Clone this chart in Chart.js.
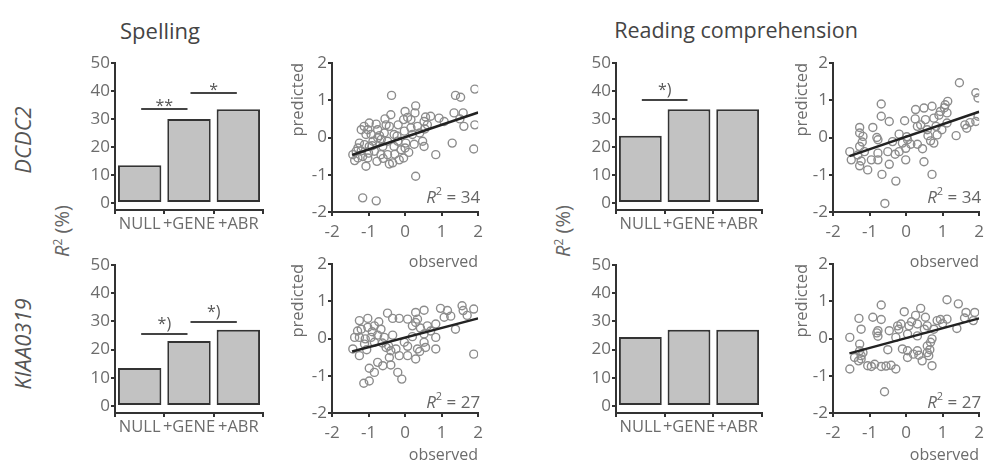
<!DOCTYPE html>
<html>
<head>
<meta charset="utf-8">
<script src="https://cdn.jsdelivr.net/npm/chart.js@4/dist/chart.umd.min.js"></script>
<style>
body { margin: 0; width: 992px; height: 468px; background: #fff; position: relative; overflow: hidden; font-family: 'Open Sans', sans-serif; }
canvas { position: absolute; }
.txt { position: absolute; color: #555; white-space: nowrap; line-height: 1; }
.mid { transform: translate(-50%, -50%); }
.rot { transform: translate(-50%, -50%) rotate(-90deg); }
sup { font-size: 0.6em; vertical-align: 0.55em; }
</style>
</head>
<body>
<div class="txt mid" style="left:160px; top:30px; font-size:22px; color:#444;">Spelling</div>
<div class="txt mid" style="left:736px; top:30px; font-size:21.5px; color:#444;">Reading comprehension</div>
<div class="txt rot" style="left:22px; top:140px; font-size:22px; font-style:italic;">DCDC2</div>
<div class="txt rot" style="left:22px; top:344px; font-size:22px; font-style:italic;">KIAA0319</div>
<div class="txt rot" style="left:62px; top:231px; font-size:20px; color:#666;"><i>R</i><sup>2</sup> (%)</div>
<div class="txt rot" style="left:563px; top:231px; font-size:20px; color:#666;"><i>R</i><sup>2</sup> (%)</div>

<canvas id="b1" width="196" height="190" style="left:75px; top:50px;"></canvas>
<canvas id="s1" width="201" height="221" style="left:288px; top:51px;"></canvas>
<canvas id="b2" width="194" height="190" style="left:576px; top:50px;"></canvas>
<canvas id="s2" width="198" height="221" style="left:792px; top:51px;"></canvas>
<canvas id="b3" width="196" height="191" style="left:75px; top:252px;"></canvas>
<canvas id="s3" width="201" height="213" style="left:288px; top:252px;"></canvas>
<canvas id="b4" width="194" height="191" style="left:576px; top:252px;"></canvas>
<canvas id="s4" width="198" height="213" style="left:792px; top:252px;"></canvas>

<script>
// categories and tick values
const categories = ['NULL', '+GENE', '+ABR'];
const barTicks = [0, 10, 20, 30, 40, 50];
const scatterTicks = [-2, -1, 0, 1, 2];

// R2 (%) bars
const spellDcdc2Bars = [13.5, 30, 33.5];
const readDcdc2Bars = [24, 33.5, 33.5];
const spellKiaaBars = [13.5, 23, 27];
const readKiaaBars = [24.5, 27, 27];

// significance brackets: [from, to, level, label]
const spellDcdc2Sig = [[0, 1, 33.6, '**'], [1, 2, 39.3, '*']];
const readDcdc2Sig = [[0, 1, 36.8, '*)']];
const spellKiaaSig = [[0, 1, 25.5, '*)'], [1, 2, 29.8, '*)']];
const readKiaaSig = [];

// R2 shown in scatter panels
const spellDcdc2R2 = 34;
const readDcdc2R2 = 34;
const spellKiaaR2 = 27;
const readKiaaR2 = 27;

// regression lines [[x1,y1],[x2,y2]]
const spellDcdc2Fit = [[-1.45, -0.47], [2, 0.67]];
const readDcdc2Fit = [[-1.55, -0.5], [2, 0.69]];
const spellKiaaFit = [[-1.45, -0.35], [2, 0.54]];
const readKiaaFit = [[-1.55, -0.4], [2, 0.54]];

// observed vs predicted
const spellDcdc2Points = [
  [-0.37, 1.13], [1.38, 1.13], [1.52, 1.08], [1.91, 1.3], [0.29, 0.85], [0.27, 0.66], [-0.39, 0.61],
  [-0.98, 0.39], [-0.79, 0.36], [0.07, 0.54], [-0.19, 0.34], [-0.43, 0.3], [0.52, 0.43], [0.61, 0.34],
  [0.93, 0.52], [1.34, 0.66], [1.59, 0.66], [1.61, 0.3], [1.91, 0.34], [-1.2, 0.21], [-1.07, 0.08],
  [-0.93, 0.08], [-0.75, -0.01], [-0.57, 0.12], [-0.3, 0.08], [-0.02, 0.17], [0.16, 0.26], [-1.25, -0.15],
  [-1.11, -0.19], [-0.88, -0.1], [-0.61, -0.24], [-0.3, -0.24], [-0.11, -0.33], [0, -0.28], [0.48, -0.1],
  [0.52, -0.24], [1.29, -0.15], [1.88, -0.31], [0.84, -0.46], [-1.43, -0.46], [-1.29, -0.55], [-1.16, -0.51],
  [-1.02, -0.55], [-0.77, -0.64], [-0.48, -0.46], [-0.34, -0.68], [-0.16, -0.6], [-1.07, -0.77], [0.29, -1.04],
  [-1.16, -1.62], [-0.79, -1.7], [-1.34, -0.37], [-0.84, -0.37], [-0.66, -0.46], [0.16, 0.48], [-0.04, 0.48],
  [-1.02, 0.21], [-0.75, 0.21], [-0.52, 0.34], [0.7, 0.57], [1.07, 0.43], [-1.29, -0.28], [-0.98, -0.24],
  [-0.48, -0.1], [-0.2, -0.1], [0.2, 0.08], [0.34, 0.3], [0.54, 0.23], [0.02, -0.15], [-0.43, -0.71],
  [-0.04, -0.55], [-1.2, -0.36], [-1.0, -0.42], [-0.9, -0.22], [-0.7, 0.05], [-0.6, -0.56], [-0.22, 0.04],
  [0.1, -0.4], [0.4, 0.12], [-1.38, -0.62], [-0.55, 0.5], [0.0, 0.7], [0.56, 0.55], [1.5, 0.5],
  [-0.65, -0.05], [-1.12, 0.3], [-0.28, -0.45], [0.25, -0.18]
];
const readDcdc2Points = [
  [1.46, 1.47], [1.91, 1.2], [1.97, 1.06], [-0.68, 0.9], [1.14, 0.97], [1.07, 0.88], [0.26, 0.75],
  [0.49, 0.79], [0.71, 0.84], [0.94, 0.7], [-0.68, 0.57], [-0.46, 0.43], [-0.04, 0.45], [0.53, 0.48],
  [0.76, 0.52], [1.12, 0.66], [1.91, 0.43], [1.97, 0.57], [-1.27, 0.27], [-0.91, 0.27], [-1.18, 0.03],
  [-0.19, 0.09], [0.31, 0.3], [0.58, 0.21], [0.98, 0.21], [1.66, 0.25], [1.61, 0.34], [-0.77, -0.06],
  [0.04, -0.06], [0.31, -0.18], [0.67, -0.09], [0.76, -0.15], [1.37, 0.05], [-1.54, -0.38], [-1.27, -0.24],
  [-1.32, -0.47], [-1.14, -0.38], [-0.77, -0.42], [-0.5, -0.38], [-0.19, -0.38], [-0.01, -0.29], [0.13, -0.18],
  [-1.5, -0.6], [-1.23, -0.63], [-1.05, -0.87], [-0.77, -0.6], [-0.46, -0.72], [-0.01, -0.6], [0.49, -0.65],
  [-0.66, -0.99], [-0.28, -1.17], [0.71, -0.99], [-0.58, -1.77], [-0.95, -0.6], [-1.27, -0.76], [-0.1, -0.15],
  [-0.37, -0.11], [0.85, 0.07], [0.4, 0.34], [1.12, 0.39], [-1.27, 0.12], [-1.2, -0.12], [-0.8, 0.0],
  [0.02, 0.02], [0.6, 0.05], [0.9, 0.6], [1.05, 0.8], [0.45, -0.3], [1.75, 0.4], [-0.3, -0.45],
  [0.25, 0.5], [0.82, 0.3]
];
const spellKiaaPoints = [
  [-1.25, 0.48], [-1.02, 0.54], [-0.48, 0.68], [-0.34, 0.54], [-0.16, 0.54], [0.07, 0.52], [0.29, 0.7],
  [0.52, 0.76], [0.97, 0.81], [1.16, 0.75], [1.56, 0.88], [1.59, 0.75], [1.88, 0.79], [-1.2, 0.25],
  [-1.02, 0.3], [-0.84, 0.34], [-0.66, 0.25], [0.2, 0.34], [0.29, 0.43], [0.61, 0.34], [0.84, 0.39],
  [1.38, 0.25], [-1.38, 0.03], [-1.25, 0.03], [-1.09, -0.01], [-0.93, 0.03], [-0.75, 0.09], [-0.57, 0.03],
  [-0.34, 0.09], [0.52, 0.12], [0.84, 0.03], [-1.43, -0.28], [-1.25, -0.46], [-1.11, -0.15], [-0.84, -0.1],
  [-0.52, -0.24], [-0.39, -0.33], [-0.25, -0.28], [0.07, -0.21], [0.34, -0.28], [0.52, -0.1], [0.56, -0.24],
  [0.84, -0.28], [1.88, -0.42], [-0.43, -0.51], [-0.16, -0.46], [0.07, -0.46], [0.29, -0.55], [-0.75, -0.64],
  [-0.61, -0.73], [-0.39, -0.71], [-0.98, -0.8], [-0.84, -0.91], [-0.2, -0.91], [-0.09, -1.09], [-1.13, -1.2],
  [-0.98, -1.14], [0.34, 0.52], [1.07, 0.57], [-0.02, -0.1], [-1.3, 0.2], [-0.9, 0.18], [-0.62, -0.12],
  [-0.45, -0.2], [0.42, 0.28], [0.7, 0.2], [1.25, 0.6], [1.7, 0.62], [-0.72, 0.45], [0.4, -0.35],
  [0.2, 0.05], [-1.05, -0.3]
];
const readKiaaPoints = [
  [-0.68, 0.9], [1.12, 1.04], [1.43, 0.93], [1.88, 0.7], [-0.05, 0.72], [0.4, 0.81], [1.64, 0.7],
  [-1.29, 0.54], [-0.91, 0.57], [-0.68, 0.51], [0.26, 0.62], [0.53, 0.57], [0.94, 0.51], [1.12, 0.52],
  [1.84, 0.48], [-1.23, 0.25], [-0.77, 0.21], [-0.46, 0.21], [-0.23, 0.34], [-0.14, 0.39], [0.08, 0.34],
  [0.31, 0.39], [0.58, 0.34], [0.76, 0.25], [1.39, 0.27], [-1.54, 0.03], [-0.77, 0.06], [0.04, 0.12],
  [0.31, 0.07], [0.71, -0.01], [0.67, -0.1], [-1.27, -0.15], [-1.27, -0.33], [-0.5, -0.3], [-0.1, -0.28],
  [0.04, -0.33], [0.31, -0.33], [0.58, -0.38], [-1.41, -0.51], [-1.23, -0.55], [0.04, -0.51], [0.44, -0.6],
  [0.62, -0.46], [-1.05, -0.73], [-0.86, -0.69], [-0.68, -0.75], [-0.41, -0.72], [-0.28, -0.82], [0.71, -0.73],
  [-1.54, -0.82], [-0.59, -1.43], [-1.23, -0.46], [0.85, 0.48], [0.58, -0.2], [-0.28, 0.03], [-0.55, -0.74],
  [-1.3, -0.6], [-1.18, -0.38], [-0.8, 0.15], [-0.2, 0.25], [0.15, 0.45], [0.5, 0.25], [1.0, 0.4],
  [1.6, 0.55], [0.35, -0.45], [-0.95, -0.75], [0.2, -0.42], [0.65, -0.3]
];

Chart.defaults.font.family = "'Open Sans', sans-serif";
Chart.defaults.font.size = 16;
Chart.defaults.color = '#6c6c6c';

const axisColor = '#333';

// brackets with stars above bars
const sigPlugin = {
  id: 'sigLines',
  afterDatasetsDraw(chart, args, opts) {
    const ctx = chart.ctx;
    const xs = chart.scales.x, ys = chart.scales.y;
    ctx.save();
    opts.lines.forEach(function (s) {
      const x1 = xs.getPixelForValue(s[0]) + 1.5;
      const x2 = xs.getPixelForValue(s[1]) - 1.5;
      const y = ys.getPixelForValue(s[2]);
      ctx.strokeStyle = '#444';
      ctx.lineWidth = 2;
      ctx.beginPath();
      ctx.moveTo(x1, y);
      ctx.lineTo(x2, y);
      ctx.stroke();
      ctx.fillStyle = '#555';
      ctx.font = "16px 'Open Sans'";
      ctx.textAlign = 'center';
      ctx.textBaseline = 'alphabetic';
      const off = s[3].indexOf(')') >= 0 ? 5 : -2;
      ctx.fillText(s[3], (x1 + x2) / 2, y - off);
    });
    ctx.restore();
  }
};

// "R2 = nn" in the lower right corner
const r2Plugin = {
  id: 'r2Label',
  afterDraw(chart, args, opts) {
    const ctx = chart.ctx;
    const a = chart.chartArea;
    const rest = ' = ' + opts.value;
    ctx.save();
    ctx.fillStyle = '#666';
    ctx.textBaseline = 'middle';
    ctx.textAlign = 'left';
    ctx.font = "17px 'Open Sans'";
    const wRest = ctx.measureText(rest).width;
    ctx.font = "11px 'Open Sans'";
    const wSup = ctx.measureText('2').width;
    ctx.font = "italic 17px 'Open Sans'";
    const wR = ctx.measureText('R').width;
    const y = a.bottom - opts.gap;
    let x = a.right + 2 - (wR + wSup + wRest);
    ctx.fillText('R', x, y);
    x += wR;
    ctx.font = "11px 'Open Sans'";
    ctx.fillText('2', x, y - 6);
    x += wSup;
    ctx.font = "17px 'Open Sans'";
    ctx.fillText(rest, x, y);
    ctx.restore();
  }
};

function axisGrid() {
  return { display: true, drawOnChartArea: false, color: axisColor, lineWidth: 2, tickLength: 4 };
}

function BuildBarChart(element, values, sig) {
  var ctx = document.getElementById(element).getContext('2d');
  return new Chart(ctx, {
    type: 'bar',
    data: {
      labels: categories,
      datasets: [{
        data: values,
        base: 0,
        backgroundColor: '#c2c2c2',
        borderColor: axisColor,
        borderWidth: 2,
        borderSkipped: false,
        categoryPercentage: 1,
        barPercentage: 0.88
      }]
    },
    options: {
      responsive: false,
      animation: false,
      devicePixelRatio: 1,
      layout: { padding: { top: 13, right: 8, bottom: 0, left: 0 } },
      plugins: { legend: { display: false }, tooltip: { enabled: false }, sigLines: { lines: sig } },
      scales: {
        x: {
          grid: Object.assign(axisGrid(), { offset: true }),
          border: { color: axisColor, width: 2 },
          ticks: { autoSkip: false, maxRotation: 0, minRotation: 0, padding: 0, font: { size: 16.5 } },
          afterFit: function (s) { s.height = 30; }
        },
        y: {
          min: -2.5,
          max: 50,
          grid: axisGrid(),
          border: { color: axisColor, width: 2 },
          ticks: { padding: 1, font: { size: 17 } },
          afterBuildTicks: function (s) { s.ticks = barTicks.map(function (v) { return { value: v }; }); },
          afterFit: function (s) { s.width = 40; }
        }
      }
    },
    plugins: [sigPlugin]
  });
}

function BuildScatterChart(element, points, fit, r2, yAxisWidth, xAxisHeight, r2Gap) {
  var ctx = document.getElementById(element).getContext('2d');
  return new Chart(ctx, {
    type: 'scatter',
    data: {
      datasets: [{
        data: fit.map(function (p) { return { x: p[0], y: p[1] }; }),
        showLine: true,
        borderColor: '#222',
        borderWidth: 2.5,
        pointRadius: 0
      }, {
        data: points.map(function (p) { return { x: p[0], y: p[1] }; }),
        pointRadius: 4,
        borderColor: '#8c8c8c',
        borderWidth: 1.4,
        backgroundColor: 'rgba(0,0,0,0)'
      }]
    },
    options: {
      responsive: false,
      animation: false,
      devicePixelRatio: 1,
      layout: { padding: { top: 12, right: 10, bottom: 0, left: 0 } },
      plugins: { legend: { display: false }, tooltip: { enabled: false }, r2Label: { value: r2, gap: r2Gap } },
      scales: {
        x: {
          type: 'linear',
          min: -2,
          max: 2,
          grid: axisGrid(),
          border: { color: axisColor, width: 2 },
          ticks: { padding: 6, font: { size: 17 } },
          title: { display: true, text: 'observed', align: 'end', padding: 0, font: { size: 16 }, color: '#6c6c6c' },
          afterBuildTicks: function (s) { s.ticks = scatterTicks.map(function (v) { return { value: v }; }); },
          afterFit: function (s) { s.height = xAxisHeight; }
        },
        y: {
          min: -2,
          max: 2,
          grid: axisGrid(),
          border: { color: axisColor, width: 2 },
          ticks: { padding: 1, font: { size: 17 } },
          title: { display: true, text: 'predicted', align: 'end', padding: 0, font: { size: 16.5 }, color: '#6c6c6c' },
          afterBuildTicks: function (s) { s.ticks = scatterTicks.map(function (v) { return { value: v }; }); },
          afterFit: function (s) { s.width = yAxisWidth; }
        }
      }
    },
    plugins: [r2Plugin]
  });
}

BuildBarChart('b1', spellDcdc2Bars, spellDcdc2Sig);
BuildScatterChart('s1', spellDcdc2Points, spellDcdc2Fit, spellDcdc2R2, 44, 60, 14);
BuildBarChart('b2', readDcdc2Bars, readDcdc2Sig);
BuildScatterChart('s2', readDcdc2Points, readDcdc2Fit, readDcdc2R2, 41, 60, 14);
BuildBarChart('b3', spellKiaaBars, spellKiaaSig);
BuildScatterChart('s3', spellKiaaPoints, spellKiaaFit, spellKiaaR2, 44, 52, 10);
BuildBarChart('b4', readKiaaBars, readKiaaSig);
BuildScatterChart('s4', readKiaaPoints, readKiaaFit, readKiaaR2, 41, 52, 10);
</script>
</body>
</html>
